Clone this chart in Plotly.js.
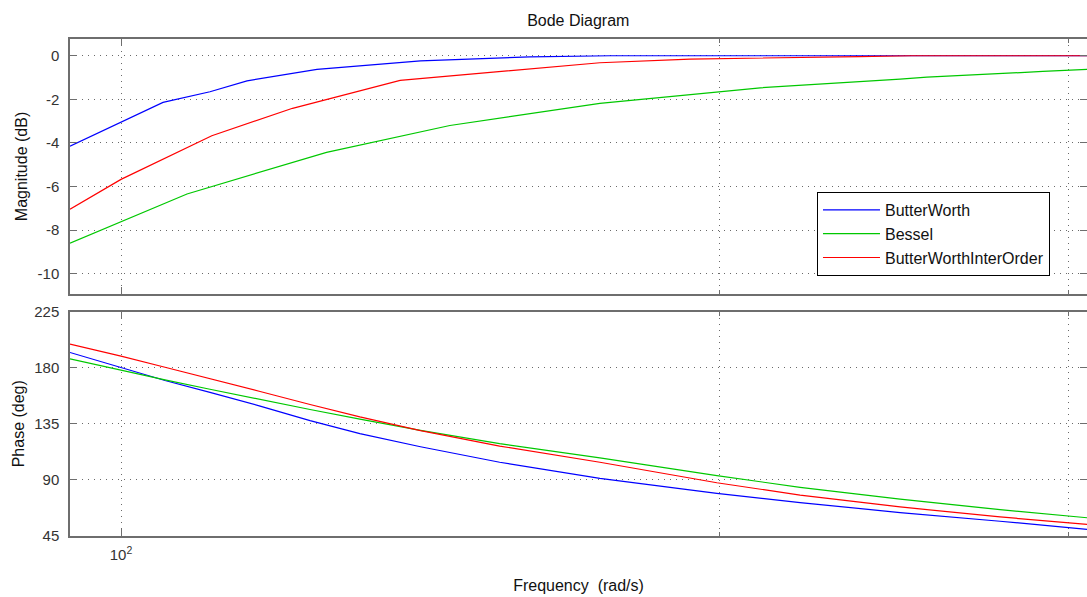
<!DOCTYPE html>
<html>
<head>
<meta charset="utf-8">
<script src="https://cdn.plot.ly/plotly-3.0.1.min.js"></script>
<style>
html,body{margin:0;padding:0;background:#fff;}
#chart{width:1087px;height:597px;}
</style>
</head>
<body>
<div id="chart"></div>
<script>
// ---- data ----
const seriesNames = ['ButterWorth', 'Bessel', 'ButterWorthInterOrder'];

const butterMagFreq = [94.26, 100, 104.99, 110.86, 115.73, 125.5, 138.2, 141.5, 160.6, 176.3, 235.3, 306.4];
const butterMagDb   = [-4.15, -3.03, -2.14, -1.65, -1.15, -0.62, -0.30, -0.23, -0.05, 0.0, 0.0, 0.0];

const besselMagFreq = [94.26, 100, 107.95, 126.9, 141.5, 146.4, 174.2, 200.2, 209.8, 246.7, 254.5, 291.1, 306.4];
const besselMagDb   = [-8.6, -7.61, -6.34, -4.43, -3.51, -3.2, -2.18, -1.65, -1.47, -1.07, -0.98, -0.72, -0.62];

const interMagFreq = [94.26, 100, 111.1, 122.0, 138.2, 155.1, 174.2, 193.4, 209.8, 235.3, 250, 306.4];
const interMagDb   = [-7.04, -5.67, -3.67, -2.41, -1.13, -0.73, -0.32, -0.15, -0.09, -0.04, 0.0, 0.0];

const phaseFreq   = [94.26, 100, 105.23, 110.86, 117.5, 124.5, 131.9, 141.5, 155.1, 174.2, 199.5, 219.7, 246.7, 277.0, 306.4];
const butterPhDeg = [192.4, 180.3, 169.8, 160.3, 149.2, 137.5, 127.0, 116.5, 104.0, 91.0, 79.0, 71.5, 63.5, 56.5, 50.0];
const besselPhDeg = [187.3, 178.1, 170.4, 162.8, 154.5, 146.5, 138.7, 129.7, 119.0, 107.5, 93.2, 83.8, 74.3, 65.8, 59.3];
const interPhDeg  = [199.2, 189.5, 180.5, 171.0, 161.0, 150.5, 140.5, 129.5, 117.0, 104.0, 87.5, 77.5, 68.0, 60.0, 53.9];

const magTicks = [0, -2, -4, -6, -8, -10];
const phaseTicks = [45, 90, 135, 180, 225];
const freqMajorTicks = [100];
const freqMajorLabels = ['10<sup>2</sup>'];
const freqMinorTicks = [200, 300];

// ---- styling ----
const colors = ['#0000ff', '#00c800', '#ff0000'];
const font = 'Liberation Sans, Arial, Helvetica, sans-serif';
const axisColor = '#6e6e6e';
const gridColor = '#6a6a6a';
const gridDash = '1px,5px';

function line(x, y, i, xa, ya, showLegend) {
  return {
    x: x, y: y, xaxis: xa, yaxis: ya, type: 'scatter', mode: 'lines',
    name: seriesNames[i], showlegend: showLegend, legendgroup: seriesNames[i],
    line: {color: colors[i], width: 1.2}, hoverinfo: 'x+y+name'
  };
}

const traces = [
  line(butterMagFreq, butterMagDb, 0, 'x', 'y', true),
  line(besselMagFreq, besselMagDb, 1, 'x', 'y', true),
  line(interMagFreq, interMagDb, 2, 'x', 'y', true),
  line(phaseFreq, butterPhDeg, 0, 'x2', 'y2', false),
  line(phaseFreq, besselPhDeg, 1, 'x2', 'y2', false),
  line(phaseFreq, interPhDeg, 2, 'x2', 'y2', false)
];

function xAxis(anchor, labels) {
  return {
    type: 'log', range: [1.97433, 2.48626], domain: [0, 1], anchor: anchor,
    tickmode: 'array', tickvals: freqMajorTicks, ticktext: freqMajorLabels,
    showticklabels: labels, ticks: 'inside', ticklen: 7, tickcolor: axisColor, tickwidth: 1,
    showgrid: true, gridcolor: gridColor, griddash: gridDash, gridwidth: 1,
    minor: {tickmode: 'array', tickvals: freqMinorTicks, ticks: 'inside', ticklen: 4,
            tickcolor: axisColor, showgrid: true, gridcolor: gridColor, griddash: gridDash, gridwidth: 1},
    showline: true, linecolor: axisColor, linewidth: 1.5, mirror: 'ticks',
    zeroline: false, tickfont: {family: font, size: 15, color: '#333'},
    ticklabelstandoff: 5
  };
}

function yAxis(anchor, domain, range, ticks, title) {
  return {
    domain: domain, range: range, anchor: anchor,
    tickmode: 'array', tickvals: ticks, ticktext: ticks.map(String),
    ticks: 'inside', ticklen: 7, tickcolor: axisColor,
    showgrid: true, gridcolor: gridColor, griddash: gridDash, gridwidth: 1,
    showline: true, linecolor: axisColor, linewidth: 1.5, mirror: 'ticks',
    zeroline: false, tickfont: {family: font, size: 15, color: '#333'},
    ticklabelstandoff: 6,
    title: {text: title, font: {family: font, size: 16, color: '#111'}, standoff: 6}
  };
}

const layout = {
  width: 1087, height: 597,
  paper_bgcolor: '#ffffff', plot_bgcolor: '#ffffff',
  margin: {l: 70, r: 0, t: 0, b: 0, pad: 0},
  title: {text: 'Bode Diagram', font: {family: font, size: 16, color: '#111'},
          x: 0.532, xref: 'container', y: 1 - 20 / 597, yref: 'container', yanchor: 'middle', xanchor: 'center'},
  xaxis: xAxis('y', false),
  xaxis2: Object.assign(xAxis('y2', true), {
    title: {text: 'Frequency \u00a0(rad/s)', font: {family: font, size: 16, color: '#111'}, standoff: 18}
  }),
  yaxis: yAxis('x', [0.5075, 0.9347], [-10.93, 0.77], magTicks, 'Magnitude (dB)'),
  yaxis2: yAxis('x2', [0.1030, 0.4774], [45, 225], phaseTicks, 'Phase (deg)'),
  showlegend: true,
  legend: {x: 0.7345, xanchor: 'left', y: 1 - 192 / 597, yanchor: 'top',
           bgcolor: '#ffffff', bordercolor: '#000000', borderwidth: 1,
           font: {family: font, size: 16, color: '#111'}, tracegroupgap: 0,
           itemwidth: 57},
  hovermode: 'closest'
};

Plotly.newPlot('chart', traces, layout, {displayModeBar: false, responsive: false});
</script>
</body>
</html>
